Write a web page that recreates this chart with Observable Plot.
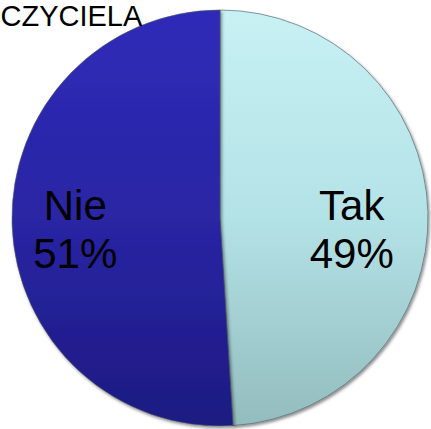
<!DOCTYPE html>
<html>
<head>
<meta charset="utf-8">
<script src="https://cdn.jsdelivr.net/npm/d3@7"></script>
<script src="https://cdn.jsdelivr.net/npm/@observablehq/plot@0.6"></script>
<style>
  html, body { margin: 0; padding: 0; background: #fff; overflow: hidden; }
  svg { display: block; }
</style>
</head>
<body>
<div id="chart"></div>
<script>
const title = "CZYCIELA";
const categories = ["Tak", "Nie"];
const values = [49, 51];

const data = categories.map((c, i) => ({category: c, value: values[i]}));
const total = d3.sum(values);
const arcs = d3.pie().sort(null).value(d => d.value)(data);
// labels sit on the horizontal mid-line, at 2/3 of the radius toward their slice
const labelData = arcs.map(a => {
  const mid = (a.startAngle + a.endAngle) / 2;
  return {
    x: 0.665 * Math.sin(mid),
    y: 0,
    text: `${a.data.category}\n${Math.round(a.data.value / total * 100)}%`
  };
});

const gradients = {
  Tak: ["#c8f1f4", "#b3e2e6", "#93bcbe"],
  Nie: ["#2f2bb8", "#2925a4", "#1d1a82"]
};

function pieMark(index, scales, values, dimensions, context) {
  const cx = scales.x(0), cy = scales.y(0);
  const r = scales.x(1) - scales.x(0);
  const svg = d3.create("svg:g");
  const defs = svg.append("defs");
  const filt = defs.append("filter").attr("id", "shadow")
    .attr("x", "-10%").attr("y", "-10%").attr("width", "120%").attr("height", "120%");
  filt.append("feDropShadow").attr("dx", 1.5).attr("dy", 2).attr("stdDeviation", 1.5)
    .attr("flood-color", "#000").attr("flood-opacity", 0.45);
  for (const [k, stops] of Object.entries(gradients)) {
    const g = defs.append("linearGradient").attr("id", "grad-" + k)
      .attr("gradientUnits", "userSpaceOnUse")
      .attr("x1", 0).attr("y1", -r).attr("x2", 0).attr("y2", r);
    stops.forEach((c, i) => g.append("stop").attr("offset", i / (stops.length - 1)).attr("stop-color", c));
  }
  const arc = d3.arc().innerRadius(0).outerRadius(r);
  const g = svg.append("g").attr("transform", `translate(${cx},${cy})`);
  g.selectAll("path").data(arcs).join("path")
    .attr("d", arc)
    .attr("fill", d => `url(#grad-${d.data.category})`)
    .attr("stroke", "#4a5a60")
    .attr("stroke-opacity", 0.6)
    .attr("stroke-width", 1)
    .attr("filter", "url(#shadow)");
  return svg.node();
}

const chart = Plot.plot({
  width: 431,
  height: 429,
  margin: 0,
  x: {domain: [-1, 1], range: [12, 428], axis: null},
  y: {domain: [-1, 1], range: [426, 10], axis: null},
  style: {fontFamily: "'Liberation Sans', Arial, sans-serif", background: "transparent"},
  marks: [
    pieMark,
    Plot.text(labelData, {
      x: "x", y: "y", text: "text",
      fontSize: 42, lineHeight: 1.14, fill: "#000",
      lineAnchor: "middle", dx: -7, dy: 10
    }),
    Plot.text([title], {
      frameAnchor: "top-left", text: d => d, dx: 0, dy: 5,
      textAnchor: "start", lineAnchor: "top", fontSize: 29, fill: "#000"
    })
  ]
});
document.getElementById("chart").appendChild(chart);
</script>
</body>
</html>
